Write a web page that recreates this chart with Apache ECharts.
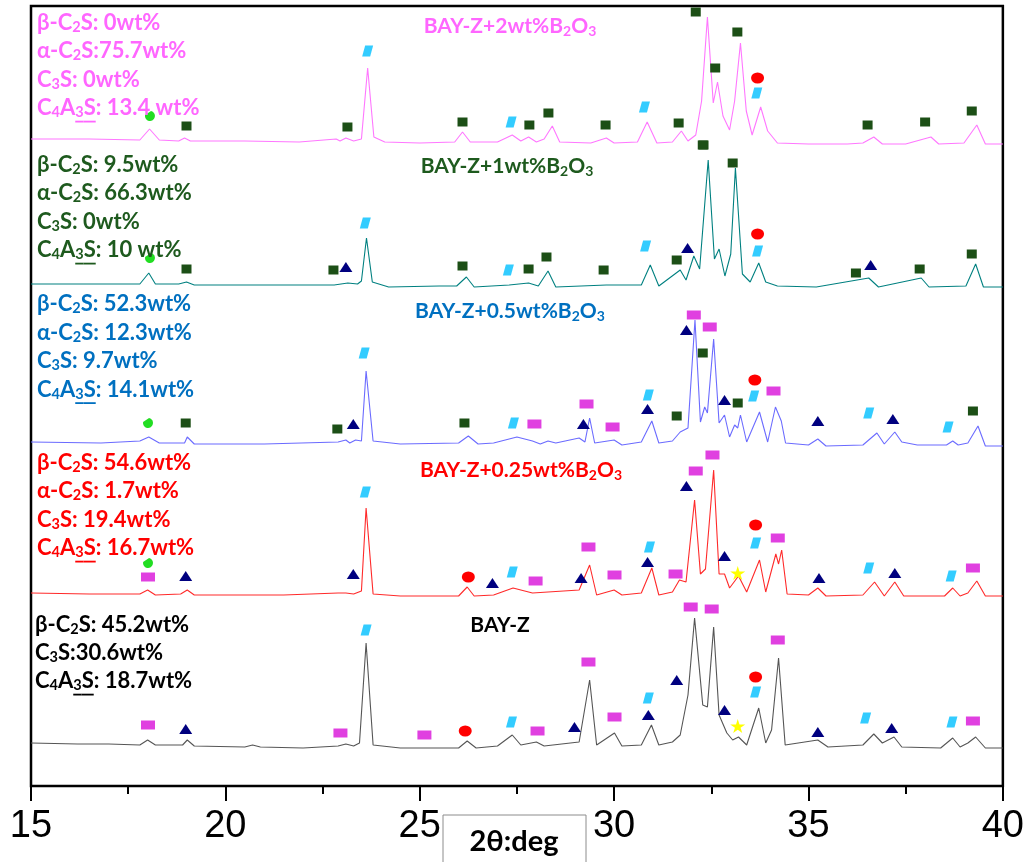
<!DOCTYPE html>
<html>
<head>
<meta charset="utf-8">
<script src="https://cdn.jsdelivr.net/npm/echarts@6/dist/echarts.min.js"></script>
<style>
  html, body { margin: 0; padding: 0; background: #fff; }
  #chart { width: 1027px; height: 862px; }
</style>
</head>
<body>
<div id="chart"></div>
<script>
// XRD patterns, [2θ, intensity above the pattern's own baseline]
const bayZ = [[15,2],[16.2,1],[17,1],[17.8,0],[18.0,5],[18.2,0],[18.9,0],[19.02,5],[19.2,-1],[20.5,-2],[20.7,0],[20.9,-2],[22,-3],[22.9,-1],[23.1,1],[23.3,-1],[23.45,2],[23.62,102],[23.8,0],[24.5,-3],[26.0,-3],[26.22,4],[26.45,-3],[27.0,-1],[27.38,10],[27.6,0],[28.0,3],[28.2,-1],[29.1,3],[29.37,65],[29.55,0],[30.01,12],[30.2,-1],[30.7,0],[30.96,20],[31.15,0],[31.5,3],[31.7,10],[31.9,50],[32.07,127],[32.28,40],[32.4,38],[32.56,118],[32.7,30],[32.9,12],[33.05,5],[33.2,8],[33.41,0],[33.72,37],[33.9,2],[34.05,15],[34.23,87],[34.4,0],[35.24,5],[35.5,-2],[36.4,0],[36.68,11],[36.9,2],[37.2,8],[37.4,-2],[38.4,-3],[38.71,7],[38.9,-2],[39.1,2],[39.3,8],[39.55,-3],[40,-3]];
const b025 = [[15,1],[16.5,0],[17.8,0],[18.0,4],[18.2,-1],[18.85,0],[19.02,4],[19.2,-1],[21.5,-1],[22.9,1],[23.1,1],[23.3,0],[23.5,3],[23.62,86],[23.8,0],[24.5,-2],[26.0,-2],[26.22,7],[26.4,-2],[26.9,-1],[27.4,6],[27.9,1],[28.3,2],[29.1,4],[29.37,29],[29.55,-1],[30.0,4],[30.2,-1],[30.7,1],[30.97,26],[31.15,-1],[31.5,2],[31.68,14],[31.85,12],[32.07,94],[32.22,20],[32.35,25],[32.56,124],[32.7,20],[32.84,20],[32.97,6],[33.2,18],[33.41,2],[33.74,34],[33.9,2],[34.16,40],[34.23,30],[34.31,44],[34.45,0],[35.0,-1],[35.24,6],[35.45,-2],[36.4,-1],[36.7,12],[36.95,-2],[37.22,12],[37.45,-2],[38.5,-2],[38.71,6],[38.9,-2],[39.1,1],[39.33,13],[39.55,-2],[40,-2]];
const b05 = [[15,1],[16.8,0],[17.8,2],[18.03,6],[18.3,0],[18.95,0],[19.02,6],[19.2,-1],[21,-1],[22.9,1],[23.1,3],[23.2,0],[23.35,3],[23.5,2],[23.62,72],[23.8,2],[24.5,-1],[26.0,0],[26.25,7],[26.5,-1],[26.9,0],[27.5,6],[27.9,2],[28.1,-1],[28.3,2],[28.5,0],[29.1,5],[29.25,1],[29.37,25],[29.5,0],[30.0,3],[30.2,-2],[30.7,1],[30.97,22],[31.15,0],[31.5,2],[31.7,11],[31.9,15],[32.08,123],[32.22,21],[32.33,36],[32.4,30],[32.56,104],[32.7,20],[32.84,28],[32.97,6],[33.1,18],[33.18,15],[33.25,28],[33.41,1],[33.74,31],[33.95,1],[34.15,36],[34.3,22],[34.41,0],[35.0,-2],[35.24,4],[35.45,-3],[36.4,-2],[36.76,10],[36.95,-1],[37.22,11],[37.4,1],[37.8,-2],[38.55,-2],[38.71,2],[38.85,-2],[39.1,0],[39.36,17],[39.55,-3],[40,-3]];
const b1 = [[15,0],[16.5,0],[17.8,0],[18.03,11],[18.2,0],[18.8,0],[19.0,2],[19.2,-1],[21,-1],[22.8,-1],[23.15,1],[23.4,0],[23.5,3],[23.63,46],[23.78,2],[24.2,-3],[25.5,-2],[25.95,-2],[26.2,7],[26.4,-3],[27.3,-1],[27.8,1],[28.05,-2],[28.3,13],[28.5,-3],[29.8,-1],[30.7,-1],[30.93,19],[31.15,-2],[31.7,14],[31.85,4],[32.05,28],[32.2,15],[32.42,124],[32.58,25],[32.7,35],[32.85,8],[33.0,30],[33.12,116],[33.3,10],[33.5,2],[33.72,21],[33.9,2],[34.2,-2],[35.2,-3],[36.55,6],[36.8,-3],[37.9,6],[38.1,-3],[39.05,-2],[39.3,20],[39.5,-3],[40,-3]];
const b2 = [[15,2],[16.5,2],[17.8,1],[18.05,12],[18.3,1],[18.8,0],[18.95,3],[19.1,0],[20.5,0],[21.9,-1],[22.85,2],[22.95,0],[23.1,3],[23.3,0],[23.5,2],[23.66,73],[23.82,4],[24.1,-1],[25.0,-2],[25.9,-1],[26.1,9],[26.3,-1],[27.0,-1],[27.38,6],[27.6,0],[27.8,4],[28.0,-1],[28.2,2],[28.41,15],[28.6,-1],[29.4,-2],[29.8,3],[30.0,-2],[30.6,-1],[30.85,19],[31.1,-2],[31.5,-1],[31.73,10],[31.9,0],[32.1,6],[32.25,40],[32.4,124],[32.55,38],[32.66,59],[32.8,25],[32.97,11],[33.1,40],[33.25,98],[33.4,30],[33.55,6],[33.77,34],[33.95,10],[34.2,-2],[35,-3],[36.0,-3],[36.4,-2],[36.68,4],[36.9,-3],[37.5,-3],[38.15,4],[38.35,-3],[39.0,-2],[39.33,16],[39.55,-3],[40,-3]];

// phase markers per sample, [2θ, height above baseline]
const bayZMarks = {
  pink: [[18.01,20],[22.96,12],[25.12,10],[28.03,14],[29.34,83],[30.01,28],[31.97,138],[32.51,136],[34.21,105],[39.23,24]],
  tri: [[18.98,16],[28.98,18],[30.88,30],[31.61,65],[32.84,35],[35.24,13],[37.14,17]],
  para: [[23.62,115],[27.36,23],[30.88,47],[33.64,53],[36.47,27],[38.69,23]],
  dot: [[26.17,14],[33.64,68]],
  star: [[33.18,19]]
};
const b025Marks = {
  semi: [[18.01,31]],
  pink: [[18.01,17],[27.98,13],[29.34,47],[30.01,19],[31.58,20],[32.1,123],[32.53,139],[34.21,56],[39.23,26]],
  tri: [[18.98,18],[23.29,20],[26.87,11],[29.15,16],[30.86,32],[31.86,108],[32.84,38],[35.27,16],[37.22,21]],
  para: [[23.6,102],[27.38,22],[30.91,47],[33.64,51],[36.55,26],[38.67,18]],
  dot: [[26.25,17],[33.64,69]],
  star: [[33.18,21]]
};
const b05Marks = {
  semi: [[18.01,20]],
  sq: [[18.98,20],[22.88,14],[26.15,20],[31.61,27],[32.28,90],[33.18,40],[39.23,32]],
  tri: [[23.29,19],[29.21,19],[30.86,34],[31.86,113],[32.84,43],[35.24,22],[37.17,24]],
  para: [[23.57,90],[27.41,20],[30.88,48],[33.59,47],[36.55,30],[38.59,16]],
  pink: [[27.95,19],[29.29,39],[29.96,16],[32.05,128],[32.46,116],[34.1,52]],
  dot: [[33.62,63]]
};
const b1Marks = {
  semi: [[18.06,26]],
  sq: [[19.0,15],[22.78,14],[26.1,18],[27.8,15],[28.26,27],[29.73,14],[31.61,24],[32.3,139],[33.05,121],[36.22,11],[37.86,15],[39.2,30]],
  tri: [[23.1,17],[31.89,36],[36.6,19]],
  para: [[23.6,61],[27.28,14],[30.81,38],[33.69,33]],
  dot: [[33.69,50]]
};
const b2Marks = {
  semi: [[18.06,25]],
  sq: [[19.0,15],[23.14,14],[26.1,19],[27.82,16],[28.31,28],[29.78,16],[31.66,18],[32.1,129],[32.28,-4],[32.6,73],[33.17,109],[36.52,16],[38.0,19],[39.2,30]],
  para: [[23.66,90],[27.35,19],[30.78,34],[33.67,48]],
  dot: [[33.69,63]]
};

// texts
const titles = ['BAY-Z', 'BAY-Z+0.25wt%B_2O_3', 'BAY-Z+0.5wt%B_2O_3', 'BAY-Z+1wt%B_2O_3', 'BAY-Z+2wt%B_2O_3'];
const labelsZ = ['β-C_2S: 45.2wt%', 'C_3S:30.6wt%', 'C_4A_3S: 18.7wt%'];
const labels025 = ['β-C_2S: 54.6wt%', 'α-C_2S: 1.7wt%', 'C_3S: 19.4wt%', 'C_4A_3S: 16.7wt%'];
const labels05 = ['β-C_2S: 52.3wt%', 'α-C_2S: 12.3wt%', 'C_3S: 9.7wt%', 'C_4A_3S: 14.1wt%'];
const labels1 = ['β-C_2S: 9.5wt%', 'α-C_2S: 66.3wt%', 'C_3S: 0wt%', 'C_4A_3S: 10 wt%'];
const labels2 = ['β-C_2S: 0wt%', 'α-C_2S:75.7wt%', 'C_3S: 0wt%', 'C_4A_3S: 13.4 wt%'];

// vertical shift of each pattern (stacking)
const offsets = [41, 192, 343, 502, 645];

const samples = [
  { data: bayZ, marks: bayZMarks, labels: labelsZ, line: '#555555', text: '#000000', lx: 35, ly: 625, step: 28, title: [500, 625] },
  { data: b025, marks: b025Marks, labels: labels025, line: '#ff2a2a', text: '#ff0000', lx: 37, ly: 462.5, step: 28.5, title: [521, 470] },
  { data: b05, marks: b05Marks, labels: labels05, line: '#6b6bff', text: '#0070c0', lx: 37, ly: 304, step: 28.5, title: [510, 311] },
  { data: b1, marks: b1Marks, labels: labels1, line: '#008080', text: '#1e5a1e', lx: 37, ly: 164.5, step: 28.5, title: [507, 166] },
  { data: b2, marks: b2Marks, labels: labels2, line: '#ff77ff', text: '#ff66ff', lx: 37, ly: 22.5, step: 28.5, title: [510, 26] }
];

const markerStyles = {
  sq:   { symbol: 'rect', size: [10, 9], color: '#1c4f16' },
  pink: { symbol: 'rect', size: [14, 9], color: '#e040e0' },
  tri:  { symbol: 'triangle', size: [13, 10], color: '#00007f' },
  para: { symbol: 'path://M3,0 L11,0 L8,11 L0,11 Z', size: [11, 11], color: '#33ccff' },
  dot:  { symbol: 'circle', size: [13, 11], color: '#ff0000' },
  semi: { symbol: 'path://M0,4 L6,0 A5,5 0 1 1 0,4 Z', size: [10, 10], color: '#22dd22' },
  star: { symbol: 'path://M50,0 L61,35 L98,35 L68,57 L79,91 L50,70 L21,91 L32,57 L2,35 L39,35 Z', size: [15, 14], color: '#ffff00' }
};

const FONT = 'Lato';
const toRich = s => s.replace(/_(\d)/g, '{s|$1}');

function textStyle(color, size, sub, extra) {
  return Object.assign({
    fill: color, fontSize: size, fontWeight: 'bold', fontFamily: FONT,
    lineHeight: 24, verticalAlign: 'middle',
    rich: {
      s: { fontSize: sub, fontWeight: 'bold', fontFamily: FONT, lineHeight: 14, verticalAlign: 'bottom', fill: color }
    }
  }, extra);
}

// invisible copy of "C4A3S" with a thin filled box under "3S" -> underline
function underlineStyle(color, size, sub) {
  const hide = 'rgba(0,0,0,0)';
  const base = { fontWeight: 'bold', fontFamily: FONT, fill: hide };
  return {
    text: '{h|C}{hs|4}{h|A}{us|3}{u|S}',
    align: 'left', verticalAlign: 'middle', lineHeight: 24,
    fontSize: size, fontWeight: 'bold', fontFamily: FONT, fill: hide,
    rich: {
      h: Object.assign({ fontSize: size, lineHeight: 24 }, base),
      hs: Object.assign({ fontSize: sub, lineHeight: 14, verticalAlign: 'bottom' }, base),
      us: Object.assign({ fontSize: sub, height: 1.8, lineHeight: 2, verticalAlign: 'bottom', backgroundColor: color }, base),
      u: Object.assign({ fontSize: size, height: 1.8, lineHeight: 2, verticalAlign: 'bottom', backgroundColor: color }, base)
    }
  };
}

const series = [];
const graphic = [];

samples.forEach((smp, i) => {
  const off = offsets[i];
  series.push({
    type: 'line',
    data: smp.data.map(p => [p[0], p[1] + off]),
    showSymbol: false,
    lineStyle: { color: smp.line, width: 1.1 },
    z: 2
  });
});

samples.forEach((smp, i) => {
  const off = offsets[i];
  Object.keys(smp.marks).forEach(k => {
    const st = markerStyles[k];
    series.push({
      type: 'scatter',
      data: smp.marks[k].map(p => [p[0], p[1] + off]),
      symbol: st.symbol,
      symbolSize: st.size,
      itemStyle: { color: st.color, opacity: 1 },
      z: 3
    });
  });

  smp.labels.forEach((lab, j) => {
    const y = smp.ly + j * smp.step;
    graphic.push({
      type: 'text', x: smp.lx, y: y, z: 100,
      style: textStyle(smp.text, 22, 14.5, { text: toRich(lab), align: 'left' })
    });
    if (lab.indexOf('A_3S') >= 0) {
      graphic.push({
        type: 'text', x: smp.lx, y: y + 2.5, z: 100,
        style: underlineStyle(smp.text, 22, 14.5)
      });
    }
  });

  graphic.push({
    type: 'text', x: smp.title[0], y: smp.title[1], z: 100,
    style: textStyle(smp.text, 21, 14, { text: toRich(titles[i]), align: 'center' })
  });
});

// axis name box
graphic.push({
  type: 'rect', z: 100,
  shape: { x: 443, y: 815, width: 143, height: 52 },
  style: { fill: '#ffffff', stroke: '#8c8c8c', lineWidth: 1 }
});
graphic.push({
  type: 'text', x: 514, y: 842, z: 101,
  style: { text: '2θ:deg', fill: '#000', fontSize: 29, fontWeight: 'bold', fontFamily: FONT, align: 'center', verticalAlign: 'middle' }
});

const chart = echarts.init(document.getElementById('chart'));
chart.setOption({
  animation: false,
  backgroundColor: '#ffffff',
  grid: { left: 31, right: 23, top: 6, bottom: 76, show: true, borderColor: '#000', borderWidth: 2.5 },
  xAxis: {
    type: 'value', min: 15, max: 40, interval: 5,
    axisLine: { lineStyle: { color: '#000', width: 2 } },
    axisTick: { inside: false, length: 15, lineStyle: { color: '#000', width: 2 } },
    minorTick: { show: true, splitNumber: 2, length: 8, lineStyle: { color: '#000', width: 2 } },
    axisLabel: { fontSize: 38, color: '#000', fontFamily: 'Liberation Sans', margin: 22 },
    splitLine: { show: false }
  },
  yAxis: { type: 'value', min: 0, max: 780, show: false },
  series: series,
  graphic: graphic
});
</script>
</body>
</html>
